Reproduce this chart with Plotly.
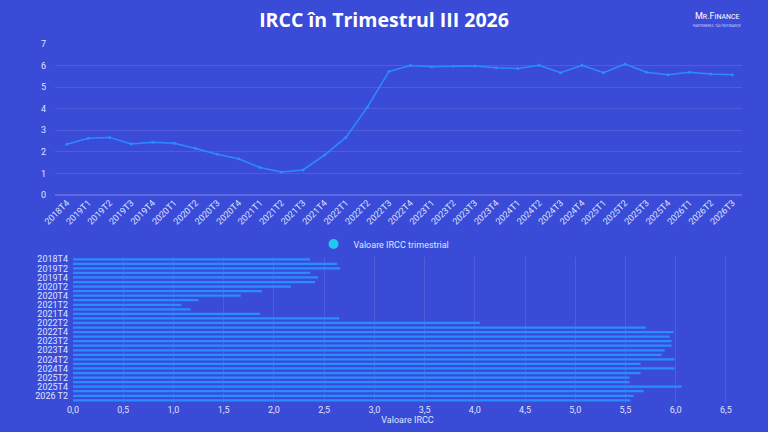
import plotly.graph_objects as go

# top chart: quarterly IRCC
quarters = ["2018T4",
            "2019T1", "2019T2", "2019T3", "2019T4",
            "2020T1", "2020T2", "2020T3", "2020T4",
            "2021T1", "2021T2", "2021T3", "2021T4",
            "2022T1", "2022T2", "2022T3", "2022T4",
            "2023T1", "2023T2", "2023T3", "2023T4",
            "2024T1", "2024T2", "2024T3", "2024T4",
            "2025T1", "2025T2", "2025T3", "2025T4",
            "2026T1", "2026T2", "2026T3"]
ircc = [2.35, 2.63, 2.67, 2.36, 2.44, 2.40, 2.16, 1.89, 1.68,
        1.27, 1.07, 1.16, 1.85, 2.67, 4.07, 5.72, 6.00,
        5.95, 5.97, 5.98, 5.90, 5.87, 6.01, 5.67, 6.01,
        5.67, 6.07, 5.69, 5.58, 5.69, 5.61, 5.58]

# bottom chart: bars
bar_labels = ["2018T4",
              "2019T1", "2019T2", "2019T3", "2019T4",
              "2020T1", "2020T2", "2020T3", "2020T4",
              "2021T1", "2021T2", "2021T3", "2021T4",
              "2022T1", "2022T2", "2022T3", "2022T4",
              "2023T1", "2023T2", "2023T3", "2023T4",
              "2024T1", "2024T2", "2024T3", "2024T4",
              "2025T1", "2025T2", "2025T3", "2025T4",
              "2026T1", "2026 T2", "2026T3"]
bar_values = [2.36, 2.63, 2.66, 2.36, 2.44, 2.41, 2.17, 1.88, 1.67,
              1.25, 1.08, 1.17, 1.86, 2.65, 4.05, 5.70, 5.98,
              5.94, 5.96, 5.96, 5.89, 5.86, 5.99, 5.65, 5.99,
              5.65, 5.54, 5.54, 6.06, 5.68, 5.58, 5.55]
bar_ticks = bar_labels[::2]
x_ticks = [0, 0.5, 1, 1.5, 2, 2.5, 3, 3.5, 4, 4.5, 5, 5.5, 6, 6.5]
x_ticktext = [f"{v:.1f}".replace(".", ",") for v in x_ticks]

BG = "#3a4bd8"
LINE = "#2b8cff"
TXT = "#dfe4ff"
GRID = "rgba(255,255,255,0.10)"

fig = go.Figure()

fig.add_trace(go.Scatter(x=quarters, y=ircc, mode="lines+markers",
                         line=dict(color=LINE, width=1.5),
                         marker=dict(color=LINE, size=3),
                         showlegend=False, xaxis="x", yaxis="y"))
# legend entry only
fig.add_trace(go.Scatter(x=[None], y=[None], mode="markers",
                         marker=dict(color="#22c8ee", size=10),
                         name="Valoare IRCC trimestrial",
                         xaxis="x", yaxis="y"))

fig.add_trace(go.Bar(x=bar_values, y=bar_labels, orientation="h",
                     marker=dict(color=LINE, line=dict(width=0)),
                     showlegend=False, xaxis="x2", yaxis="y2"))

fig.update_layout(
    width=768, height=432,
    margin=dict(l=0, r=0, t=0, b=0),
    paper_bgcolor=BG, plot_bgcolor=BG,
    font=dict(family="Roboto", color=TXT, size=9),
    title=dict(text="<b>IRCC în Trimestrul III 2026</b>", x=0.5, xanchor="center",
               y=0.953, yanchor="middle",
               font=dict(family="Open Sans", size=19.5, color="white")),
    bargap=0.5,
    legend=dict(orientation="h", x=0.5, xanchor="center", y=0.435, yanchor="middle",
                font=dict(size=9, color=TXT), bgcolor="rgba(0,0,0,0)"),
    xaxis=dict(domain=[55/768, 742/768], anchor="y", type="category",
               range=[-0.55, 31.45], automargin=False,
               tickangle=-45, showgrid=False, tickfont=dict(size=9, color=TXT),
               showline=False, ticks=""),
    yaxis=dict(domain=[1-195/432, 1-44/432], anchor="x", range=[0, 7],
               dtick=1, gridcolor=GRID, automargin=False,
               zeroline=True, zerolinecolor="rgba(255,255,255,0.18)",
               tickfont=dict(size=9, color=TXT), ticklabelstandoff=8),
    xaxis2=dict(domain=[73/768, 742/768], anchor="y2", range=[0, 6.66],
                tickvals=x_ticks, ticktext=x_ticktext, gridcolor=GRID,
                automargin=False, zeroline=False, tickfont=dict(size=9, color=TXT),
                title=dict(text="Valoare IRCC", font=dict(size=9, color=TXT), standoff=2)),
    yaxis2=dict(domain=[1-402.6/432, 1-257/432], anchor="x2", type="category",
                autorange="reversed", tickvals=bar_ticks, ticktext=bar_ticks,
                automargin=False, showgrid=False,
                tickfont=dict(size=9, color=TXT), ticklabelstandoff=4),
)

fig.add_annotation(text="M<span style='font-size:7px'>R</span>.F<span style='font-size:7px'>INANCE</span>",
                   xref="paper", yref="paper", x=0.934, y=0.962, xanchor="center",
                   yanchor="middle", showarrow=False,
                   font=dict(family="Roboto", size=9, color="white"))
fig.add_annotation(text="PARTENERUL TĂU ÎN FINANȚE",
                   xref="paper", yref="paper", x=0.934, y=0.94, xanchor="center",
                   yanchor="middle", showarrow=False,
                   font=dict(family="Roboto", size=3.5, color="#c8d0ff"))

# the page body has an 8px default margin; remove it so the figure sits at 0,0
fig.write_html("out.html", config={"displayModeBar": False},
               post_script="document.body.style.margin='0';document.body.style.background='#3a4bd8';")
